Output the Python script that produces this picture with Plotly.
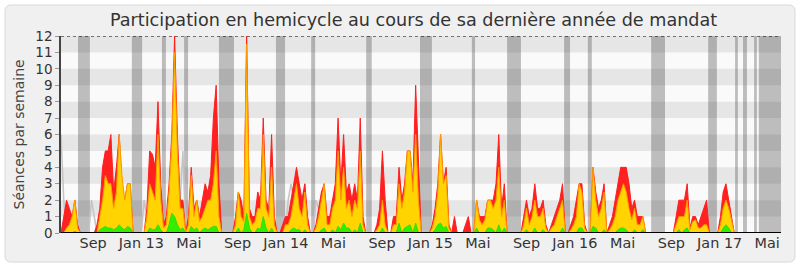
import plotly.graph_objects as go
import pandas as pd

# ---------------- data (weekly values, first week starting 2012-06-12) ----------------
start_date = "2012-06-12"
end_date = "2017-06-05"
n_weeks = 261

presences = [  # red: séances en hémicycle
    0,1,2,1.5,1,2,0.5,0,0,0,
    0,0,0,0.5,1.5,4,5,5,6,2.5,
    4,6,3,2,3,3,0,0,0,0,
    0,1.5,5,4.8,4,8,3,0.5,1,3,
    6,12,6,2,2,0,1,4,1.5,2,
    1,2,3,2.5,3.5,7,9,3,0,0,
    0,0,0,1,2.5,2,1,12,1.5,1,
    1,2.5,2,7,2,1.5,6,1,0,0,
    0.5,1,1,2,3,4,3,2,3,1,
    0,0,0.5,1.5,2.5,3,1,1,2,3,
    7,3,6,2.5,3,2,3,2,7,1,
    0,0,0,0,0.5,1.5,5,2,0,0,
    1,1,4,2,3,5,5,3,9,4,
    0,0,0,0,0.5,1.5,3,6,3,4,
    0.5,0,1,0,0,0,0.5,1,0,0,
    2,1,1,1,2,2,2,3,6,1.5,
    3,0,0,0,0,0,0,1,2,1,
    1.5,3,1.5,1.5,2,0.5,0,0.5,1,1.5,
    2,3,0,0,0.5,1,2,3,3,0.5,
    0,0,4,2.5,1.5,2,3,0,0.5,1,
    2,3,4,4,4,3,1.5,2,1,1,
    1,0,0,0,0,0,0,0,0,0,
    0,0,1,2,2,2,3,0.3,1,1,
    0.5,1,1.5,2,0,0,0,0,1,2.5,
    3,2,1.2,0,0,0,0,0,0,0,
    0,0,0,0,0,0,0,0,0,0,0,
]

interventions = [  # yellow
    0,0,0.3,0.5,1,2,0.3,0,0,0,
    0,0,0,0,1,2,3.5,3,3,1.5,
    2.5,6,3.5,2,3,3,0,0,0,0,
    0,1,3,2.5,2,6,2,0.3,0.5,2.5,
    5.5,11,5,1.5,1.5,0,0.5,3.5,1,2,
    0.7,1,1.5,2,2,3,5,1,0,0,
    0,0,0,0.5,2.5,1,0.7,11.5,1,0.5,
    0.7,1.5,1.5,6,1.5,1,4,0.5,0,0,
    0,0.5,0.5,1,2,3,1.5,1,2.5,0.5,
    0,0,0.3,1,2,3,0.5,0.5,1.5,2,
    5,2,4,1.5,2,1,2,1.5,5,0.5,
    0,0,0,0,0.2,0.5,2,0.5,0,0,
    0.5,0.5,3,1.5,2.5,5,5,2.5,6,2,
    0,0,0,0,0.3,1,2.5,6,3,3.5,
    0.3,0,0,0,0,0,0,0,0,0,
    2,0.8,0.5,0.8,2,2,1.5,2,4,1,
    2,0,0,0,0,0,0,0.5,1.5,0.5,
    1,2,1,1,1.5,0.3,0,0.3,0.5,1,
    1.5,2,0,0,0.2,0.5,1,3,2.5,0.3,
    0,0,4,2,1,1.5,2.5,0,0.2,0.5,
    1,2,2.5,3,2.5,1.5,0.8,1.5,0.5,0.5,
    1,0,0,0,0,0,0,0,0,0,
    0,0,0.5,1,1,1,2,0.2,0.7,0.8,
    0.3,0.3,0.5,0.5,0,0,0,0,0.5,1.5,
    2,1.5,0.8,0,0,0,0,0,0,0,
    0,0,0,0,0,0,0,0,0,0,0,
]

questions = [  # green
    0,0,0,0,0,0.1,0,0,0,0,
    0,0,0,0,0.2,0.3,0.4,0.3,0.3,0.2,
    0.3,0.5,0.3,0.2,0.4,0.3,0,0,0,0,
    0,0,0.3,0.2,0.2,0.5,0.2,0,0,0.5,
    1.2,1,0.5,0.2,0.3,0,0,0.4,0.2,0.3,
    0,0.2,0.3,0.2,0.3,0.4,0.4,0,0,0,
    0,0,0,0,0.3,0,0.2,1.2,0.3,0,
    0,0.3,0.2,1,0.3,0,0.3,0,0,0,
    0,0,0,0.2,0.3,0.2,0.2,0,0.2,0,
    0,0,0,0,0.2,0.3,0,0,0.2,0,
    0.4,0.2,0.6,0.3,0.3,0,0.2,0,0.6,0,
    0,0,0,0,0,0,0.3,0,0,0,
    0,0,0.6,0,0.3,0.4,0.5,0,0.6,0,
    0,0,0,0,0,0.2,0.5,0.6,0.3,0.4,
    0,0,0,0,0,0,0,0,0,0,
    0.3,0,0,0,0.3,0.3,0.2,0,0.5,0,
    0.3,0,0,0,0,0,0,0,0.2,0,
    0,0.3,0,0,0.2,0,0,0,0,0,
    0,0.3,0,0,0,0,0,0.3,0.3,0,
    0,0,0.4,0.3,0,0,0.2,0,0,0,
    0,0.2,0.3,0.3,0.2,0,0,0.2,0,0,
    0.2,0,0,0,0,0,0,0,0,0,
    0,0,0,0.2,0,0.2,0.3,0,0,0,
    0,0,0,0,0,0,0,0,0,0.3,
    0.5,0.3,0,0,0,0,0,0,0,0,
    0,0,0,0,0,0,0,0,0,0,0,
]

median_line = [0.0] * n_weeks  # grey reference line
for idx, val in [(0, 6), (1, 2), (11, 2), (12, 1), (30, 2), (31, 1), (43, 2), (44, 5),
                 (82, 2), (83, 3), (84, 2), (87, 2), (88, 3), (92, 2), (93, 1.5)]:
    median_line[idx] = val

vacances = [
    ("2012-07-25", "2012-08-24"), ("2012-12-08", "2013-01-03"), ("2013-02-22", "2013-03-04"),
    ("2013-04-19", "2013-04-29"), ("2013-07-16", "2013-08-23"), ("2013-12-07", "2013-12-30"),
    ("2014-03-06", "2014-03-16"), ("2014-07-23", "2014-08-06"), ("2014-12-06", "2015-01-05"),
    ("2015-04-16", "2015-04-24"), ("2015-07-14", "2015-08-18"), ("2015-12-05", "2015-12-20"),
    ("2016-02-03", "2016-02-13"), ("2016-07-12", "2016-08-16"), ("2016-12-03", "2016-12-25"),
    ("2017-02-09", "2017-02-16"), ("2017-03-01", "2017-03-11"), ("2017-03-29", "2017-04-05"),
    ("2017-04-10", "2017-06-05"),
]

tick_dates = ["2012-09-01", "2013-01-01", "2013-05-01", "2013-09-01", "2014-01-01", "2014-05-01",
              "2014-09-01", "2015-01-01", "2015-05-01", "2015-09-01", "2016-01-01", "2016-05-01",
              "2016-09-01", "2017-01-01", "2017-05-01"]
tick_labels = ["Sep", "Jan 13", "Mai", "Sep", "Jan 14", "Mai", "Sep", "Jan 15", "Mai",
               "Sep", "Jan 16", "Mai", "Sep", "Jan 17", "Mai"]

title_text = "Participation en hemicycle au cours de sa dernière année de mandat"
ytitle_text = "Séances par semaine"

# ---------------- figure ----------------
weeks = pd.date_range(start_date, periods=n_weeks, freq="7D")
FONT = "DejaVu Sans"

fig = go.Figure()
fig.add_trace(go.Scatter(x=weeks, y=median_line, mode="lines",
                         line=dict(color="#c4c4c4", width=1.5), hoverinfo="skip"))
fig.add_trace(go.Scatter(x=weeks, y=presences, mode="lines", fill="tozeroy",
                         line=dict(color="#ff1e1e", width=1), fillcolor="#ff2020"))
fig.add_trace(go.Scatter(x=weeks, y=interventions, mode="lines", fill="tozeroy",
                         line=dict(color="#ff9a00", width=1), fillcolor="#ffd400"))
fig.add_trace(go.Scatter(x=weeks, y=questions, mode="lines", fill="tozeroy",
                         line=dict(color="#2ee000", width=1), fillcolor="#33ee00"))

L, R, T, B = 61, 781, 36, 233
W, H = R - L, B - T
def px(x): return (x - L) / W
def py(y): return (B - y) / H

shapes = []
# outer rounded frame
x0, x1, y0, y1 = px(5), px(795), py(262), py(5)
rx, ry = 6 / W, 6 / H
path = (f"M {x0+rx},{y0} L {x1-rx},{y0} Q {x1},{y0} {x1},{y0+ry} L {x1},{y1-ry} "
        f"Q {x1},{y1} {x1-rx},{y1} L {x0+rx},{y1} Q {x0},{y1} {x0},{y1-ry} "
        f"L {x0},{y0+ry} Q {x0},{y0} {x0+rx},{y0} Z")
shapes.append(dict(type="path", xref="paper", yref="paper", path=path,
                   fillcolor="#f0f0f0", line=dict(color="#d8d8d8", width=1), layer="below"))
shapes.append(dict(type="rect", xref="paper", yref="paper", x0=0, x1=1, y0=0, y1=1,
                   fillcolor="#fafafa", line=dict(width=0), layer="below"))
for k in range(1, 12, 2):
    shapes.append(dict(type="rect", xref="paper", yref="y", x0=0, x1=1, y0=k, y1=k + 1,
                       fillcolor="#e6e6e6", line=dict(width=0), layer="below"))
for a, b in vacances:
    shapes.append(dict(type="rect", xref="x", yref="paper", x0=a, x1=b, y0=0, y1=1,
                       fillcolor="rgba(50,50,50,0.3)", line=dict(width=0), layer="below"))
shapes.append(dict(type="line", xref="paper", yref="y", x0=0, x1=1, y0=12, y1=12,
                   line=dict(color="black", width=1, dash="dot")))
# baseline drawn above the areas so their zero-level edges do not show
shapes.append(dict(type="line", xref="paper", yref="y", x0=0, x1=1, y0=0, y1=0,
                   line=dict(color="black", width=2), layer="above"))

fig.update_layout(
    width=800, height=267,
    margin=dict(l=L, r=800 - R, t=T, b=267 - B),
    paper_bgcolor="white", plot_bgcolor="#fafafa",
    showlegend=False,
    font=dict(family=FONT, color="#333333"),
    shapes=shapes,
    annotations=[
        dict(text=title_text, xref="paper", yref="paper", x=px(413), y=py(20),
             xanchor="center", yanchor="middle", showarrow=False,
             font=dict(family=FONT, size=17.6, color="#333333")),
        dict(text=ytitle_text, xref="paper", yref="paper", x=px(18), y=0.5,
             xanchor="center", yanchor="middle", showarrow=False, textangle=-90,
             font=dict(family=FONT, size=14, color="#444444")),
    ],
)
fig.update_xaxes(type="date", range=[start_date, end_date], showgrid=False, zeroline=False,
                 tickvals=tick_dates, ticktext=tick_labels, ticks="",
                 tickfont=dict(family=FONT, size=14.4, color="#333333"),
                 showline=False, layer="above traces")
fig.update_yaxes(range=[0, 12], dtick=1, showgrid=False, zeroline=False,
                 ticks="outside", ticklen=4, tickcolor="#999999",
                 tickfont=dict(family=FONT, size=13.5, color="#333333"),
                 showline=True, linecolor="#444444", linewidth=1.5, layer="above traces")

fig.write_html("out.html")
